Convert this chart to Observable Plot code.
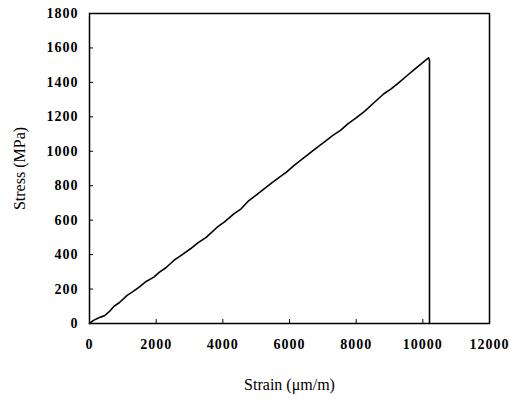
<!DOCTYPE html>
<html>
<head>
<meta charset="utf-8">
<script src="https://cdn.jsdelivr.net/npm/d3@7"></script>
<script src="https://cdn.jsdelivr.net/npm/@observablehq/plot@0.6"></script>
<style>
  html, body { margin: 0; padding: 0; background: #fff; }
  svg { font-family: "Liberation Serif", "Times New Roman", serif; }
</style>
</head>
<body>
<div id="chart"></div>
<script>
const strain = [0, 120, 250, 330, 450, 600, 730, 900, 1130, 1300, 1500, 1700, 1930, 2100, 2300, 2530, 2750, 3030, 3250, 3500, 3830, 4050, 4330, 4550, 4780, 4980, 5200, 5450, 5700, 5900, 6130, 6350, 6600, 6850, 7100, 7300, 7530, 7750, 8000, 8250, 8500, 8830, 9050, 9300, 9530, 9750, 9950, 10170, 10200, 10200];
const stress = [0, 18, 30, 37, 45, 70, 99, 122, 163, 185, 213, 244, 269, 298, 325, 366, 396, 434, 468, 500, 559, 590, 637, 666, 714, 743, 776, 813, 850, 877, 917, 950, 988, 1026, 1062, 1092, 1121, 1159, 1194, 1232, 1276, 1334, 1362, 1402, 1440, 1476, 1508, 1543, 1530, 0];
const xTicks = [0, 2000, 4000, 6000, 8000, 10000, 12000];
const yTicks = [0, 200, 400, 600, 800, 1000, 1200, 1400, 1600, 1800];

const data = strain.map((s, i) => ({strain: s, stress: stress[i]}));

const chart = Plot.plot({
  width: 520,
  height: 403,
  marginLeft: 89,
  marginRight: 31,
  marginTop: 13,
  marginBottom: 80,
  style: {fontFamily: "Liberation Serif", background: "#fff", color: "#000"},
  x: {domain: [0, 12000]},
  y: {domain: [0, 1800]},
  marks: [
    Plot.axisX({ticks: xTicks, tickSize: -4, tickPadding: 20, tickFormat: d => String(d), fontSize: 14, fontWeight: "bold",
      label: "Strain (μm/m)", labelAnchor: "center", labelArrow: "none", labelOffset: 66}),
    Plot.axisY({ticks: yTicks, tickSize: -4, tickPadding: 15, tickFormat: d => String(d), fontSize: 14, fontWeight: "bold",
      label: "Stress (MPa)", labelAnchor: "center", labelArrow: "none", labelOffset: 76}),
    Plot.frame({stroke: "#000", strokeWidth: 1.5}),
    Plot.line(data, {x: "strain", y: "stress", stroke: "#000", strokeWidth: 1.6})
  ]
});
document.getElementById("chart").appendChild(chart);
chart.querySelectorAll("g[aria-label='x-axis tick label'] text, g[aria-label='y-axis tick label'] text").forEach(t => {
  t.setAttribute("letter-spacing", "1");
});
chart.querySelectorAll("g[aria-label='x-axis label'] text, g[aria-label='y-axis label'] text").forEach(t => {
  t.setAttribute("font-size", "16");
  t.setAttribute("font-weight", "normal");
});
</script>
</body>
</html>
